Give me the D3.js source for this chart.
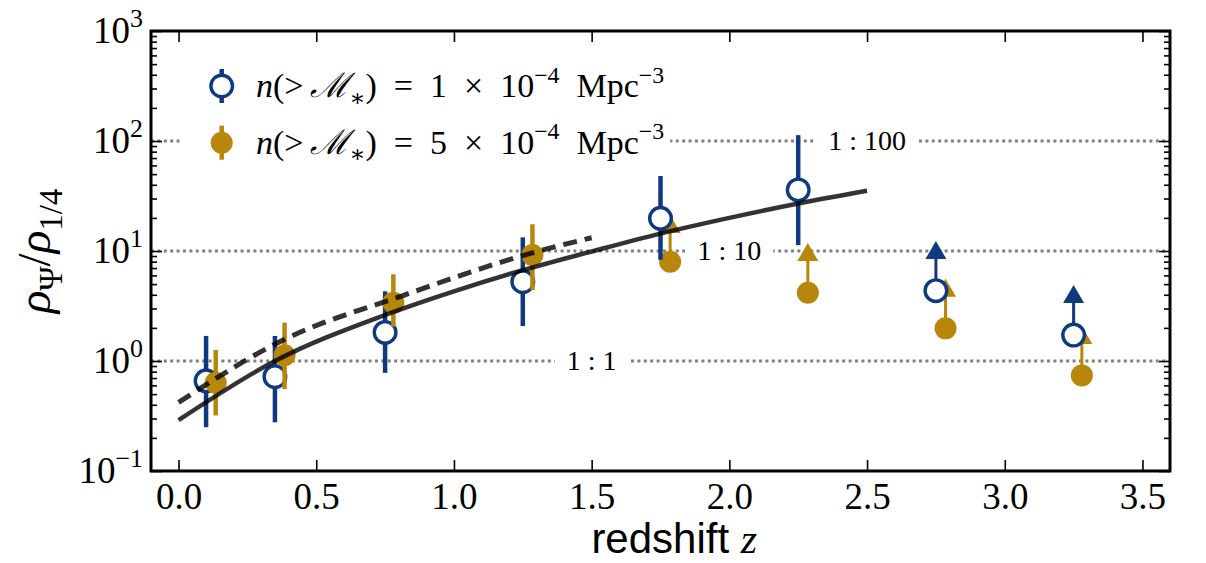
<!DOCTYPE html>
<html>
<head>
<meta charset="utf-8">
<script src="https://cdn.jsdelivr.net/npm/d3@7"></script>
<style>
  body { margin: 0; background: #fff; }
  text { fill: #000; }
</style>
</head>
<body>
<div id="chart"></div>
<script>
// measured points, n(>M*) = 1e-4
const blueZ = [0.10, 0.35, 0.75, 1.25, 1.75, 2.25];
const blueY = [0.66, 0.72, 1.82, 5.26, 19.8, 35.9];
const blueLo = [0.25, 0.277, 0.78, 2.08, 8.3, 11.3];
const blueHi = [1.69, 1.69, 4.3, 13.3, 50, 113];
// lower limits (arrows)
const blueLimZ = [2.75, 3.25];
const blueLimY = [4.36, 1.72];
const blueLimTip = [12.3, 4.9];

// measured points, n(>M*) = 5e-4
const goldZ = [0.135, 0.385, 0.78, 1.285];
const goldY = [0.635, 1.13, 3.39, 9.2];
const goldLo = [0.32, 0.556, 2.05, 4.42];
const goldHi = [1.26, 2.23, 6.14, 17.5];
const goldLimZ = [1.785, 2.285, 2.785, 3.28];
const goldLimY = [8.0, 4.18, 1.98, 0.74];
const goldLimTip = [21.2, 11.8, 5.6, 2.08];

// model curves
const solidZ = [0, 0.35, 0.75, 1.0, 1.25, 1.5, 1.75, 2.0, 2.25, 2.5];
const solidY = [0.29, 1.0, 2.62, 4.3, 6.7, 9.9, 14.4, 20, 27, 35.3];
const dashZ = [0, 0.38, 0.82, 1.3, 1.5];
const dashY = [0.42, 1.55, 3.98, 9.86, 13.2];

// reference ratios
const ratioY = [1, 10, 100];
const ratioZ = [1.5, 2.0, 2.5];
const ratioText = ["1 : 1", "1 : 10", "1 : 100"];

const xTicks = [0, 0.5, 1.0, 1.5, 2.0, 2.5, 3.0, 3.5];
const yTicks = [0.1, 1, 10, 100, 1000];
const yExp = ["\u22121", "0", "1", "2", "3"];

const BLUE = "#0f3a80";
const GOLD = "#b8860b";
const SERIF = "'Liberation Serif', 'DejaVu Serif', serif";

const W = 1206, H = 563;
const margin = { top: 31, right: 36, bottom: 92, left: 151 };
const width = W - margin.left - margin.right;
const height = H - margin.top - margin.bottom;

const svg = d3.select("#chart").append("svg")
  .attr("width", W)
  .attr("height", H)
  .attr("viewBox", `0 0 ${W} ${H}`);

svg.append("rect").attr("width", W).attr("height", H).attr("fill", "#fff");

const g = svg.append("g")
  .attr("transform", `translate(${margin.left},${margin.top})`);

const x = d3.scaleLinear().domain([-0.1, 3.6]).range([0, width]);
const y = d3.scaleLog().domain([0.1, 1000]).range([height, 0]);

// write a small math expression as tspans
function addMath(sel, parts, size) {
  let shift = 0;
  parts.forEach(p => {
    const target = p.pos === "sup" ? -0.42 * size : p.pos === "sub" ? 0.25 * size : 0;
    sel.append("tspan")
      .attr("dy", target - shift)
      .style("font-size", (p.pos ? size * 0.7 : size) + "px")
      .style("font-style", p.it ? "italic" : "normal")
      .text(p.t);
    shift = target;
  });
}

// dotted ratio lines
g.selectAll(".ratio")
  .data(ratioY)
  .enter()
  .append("line")
  .attr("x1", 0)
  .attr("x2", width)
  .attr("y1", d => y(d))
  .attr("y2", d => y(d))
  .attr("stroke", "#808080")
  .attr("stroke-width", 3)
  .attr("stroke-dasharray", "3,3.4");

ratioY.forEach((v, i) => {
  const lab = g.append("g");
  const t = lab.append("text")
    .attr("x", x(ratioZ[i]))
    .attr("y", y(v) + 9)
    .attr("text-anchor", "middle")
    .style("font-family", SERIF)
    .style("font-size", "28px")
    .text(ratioText[i]);
  const bb = t.node().getBBox();
  lab.insert("rect", "text")
    .attr("x", bb.x - 12)
    .attr("y", y(v) - 6)
    .attr("width", bb.width + 24)
    .attr("height", 12)
    .attr("fill", "#fff");
});

// lower limit arrows (drawn first, under the points)
function drawLimits(zs, ys, tips, color) {
  const grp = g.append("g");
  zs.forEach((z, i) => {
    grp.append("line")
      .attr("x1", x(z)).attr("x2", x(z))
      .attr("y1", y(ys[i])).attr("y2", y(tips[i]) + 8)
      .attr("stroke", color)
      .attr("stroke-width", 3);
    const tx = x(z), ty = y(tips[i]);
    grp.append("path")
      .attr("d", `M${tx},${ty}L${tx + 10.5},${ty + 18}L${tx - 10.5},${ty + 18}Z`)
      .attr("fill", color);
  });
}
drawLimits(goldLimZ, goldLimY, goldLimTip, GOLD);
drawLimits(blueLimZ, blueLimY, blueLimTip, BLUE);

// error bars + markers
function drawPoints(zs, ys, lo, hi, color, open) {
  const grp = g.append("g");
  grp.selectAll("line")
    .data(zs)
    .enter()
    .append("line")
    .attr("x1", d => x(d)).attr("x2", d => x(d))
    .attr("y1", (d, i) => y(lo[i]))
    .attr("y2", (d, i) => y(hi[i]))
    .attr("stroke", color)
    .attr("stroke-width", 4.5);
  grp.selectAll("circle")
    .data(zs)
    .enter()
    .append("circle")
    .attr("cx", d => x(d))
    .attr("cy", (d, i) => y(ys[i]))
    .attr("r", open ? 10.8 : 11)
    .attr("fill", open ? "#fff" : color)
    .attr("stroke", open ? color : "none")
    .attr("stroke-width", 3.4);
}
drawPoints(blueLimZ, blueLimY, blueLimY, blueLimY, BLUE, true);
drawPoints(goldLimZ, goldLimY, goldLimY, goldLimY, GOLD, false);
drawPoints(blueZ, blueY, blueLo, blueHi, BLUE, true);
drawPoints(goldZ, goldY, goldLo, goldHi, GOLD, false);

// model curves
const line = d3.line()
  .x(d => x(d[0]))
  .y(d => y(d[1]))
  .curve(d3.curveMonotoneX);

g.append("path")
  .attr("d", line(solidZ.map((z, i) => [z, solidY[i]])))
  .attr("fill", "none")
  .attr("stroke", "#000")
  .attr("stroke-opacity", 0.8)
  .attr("stroke-width", 4.5);

g.append("path")
  .attr("d", line(dashZ.map((z, i) => [z, dashY[i]])))
  .attr("fill", "none")
  .attr("stroke", "#000")
  .attr("stroke-opacity", 0.8)
  .attr("stroke-width", 5)
  .attr("stroke-dasharray", "14,8");

// axes, ticks pointing inward
const minors = [];
[0.1, 1, 10, 100].forEach(d => { for (let k = 2; k < 10; k++) minors.push(d * k); });

const xAxis = g.append("g")
  .attr("transform", `translate(0,${height})`)
  .call(d3.axisBottom(x).tickValues(xTicks).tickSize(-11).tickPadding(12).tickFormat(d3.format(".1f")));
xAxis.selectAll("text")
  .style("font-family", SERIF)
  .style("font-size", "37px");

g.append("g")
  .call(d3.axisTop(x).tickValues(xTicks).tickSize(-11).tickFormat(""));

g.append("g")
  .call(d3.axisLeft(y).tickValues(yTicks).tickSize(-11).tickFormat(""));
g.append("g").call(d3.axisLeft(y).tickValues(minors).tickSize(-6).tickFormat(""));
g.append("g").attr("transform", `translate(${width},0)`)
  .call(d3.axisRight(y).tickValues(yTicks).tickSize(-11).tickFormat(""));
g.append("g").attr("transform", `translate(${width},0)`)
  .call(d3.axisRight(y).tickValues(minors).tickSize(-6).tickFormat(""));

g.selectAll(".domain").remove();
g.selectAll(".tick line").attr("stroke", "#000").attr("stroke-width", 1.6);

yTicks.forEach((v, i) => {
  const t = g.append("text")
    .attr("x", -8)
    .attr("y", y(v) + 12)
    .attr("text-anchor", "end")
    .style("font-family", SERIF);
  addMath(t, [{ t: "10" }, { t: yExp[i], pos: "sup" }], 37);
});

// frame
g.append("rect")
  .attr("width", width)
  .attr("height", height)
  .attr("fill", "none")
  .attr("stroke", "#000")
  .attr("stroke-width", 3);

// legend
const legend = g.append("g");
const legendRows = [
  { color: BLUE, open: true, num: "1" },
  { color: GOLD, open: false, num: "5" }
];
const legBg = legend.append("rect").attr("fill", "#fff");
let legRight = 0;
legendRows.forEach((r, i) => {
  const cy = 55 + i * 56.7;
  const cx = 70.7;
  legend.append("line")
    .attr("x1", cx).attr("x2", cx)
    .attr("y1", cy - 17).attr("y2", cy + 17)
    .attr("stroke", r.color)
    .attr("stroke-width", 4.5);
  legend.append("circle")
    .attr("cx", cx).attr("cy", cy)
    .attr("r", r.open ? 10.8 : 11)
    .attr("fill", r.open ? "#fff" : r.color)
    .attr("stroke", r.open ? r.color : "none")
    .attr("stroke-width", 3.4);
  const t = legend.append("text")
    .attr("x", 105)
    .attr("y", cy + 11)
    .style("font-family", SERIF);
  addMath(t, [
    { t: "n", it: true },
    { t: "(>\u2009" },
    { t: "\u2133", it: true },
    { t: "\u2217", pos: "sub" },
    { t: ")\u2002=\u20021\u2002\u00d7\u200210".replace("1\u2002\u00d7", r.num + "\u2002\u00d7") },
    { t: "\u22124", pos: "sup" },
    { t: "\u2002Mpc" },
    { t: "\u22123", pos: "sup" }
  ], 34);
  const bb = t.node().getBBox();
  legRight = Math.max(legRight, bb.x + bb.width);
});
legBg.attr("x", 32).attr("y", 25).attr("width", legRight + 6 - 32).attr("height", 120);

// axis titles
const xl = svg.append("text")
  .attr("x", margin.left + x(1.8))
  .attr("y", 553)
  .attr("text-anchor", "middle");
xl.append("tspan")
  .style("font-family", "'Liberation Sans', Arial, sans-serif")
  .style("font-size", "42px")
  .text("redshift ");
xl.append("tspan")
  .style("font-family", SERIF)
  .style("font-style", "italic")
  .style("font-size", "42px")
  .text("z");

const yl = svg.append("text")
  .attr("transform", "translate(50,251) rotate(-90)")
  .attr("text-anchor", "middle")
  .style("font-family", SERIF);
addMath(yl, [
  { t: "\u03c1", it: true },
  { t: "\u03a8", pos: "sub" },
  { t: "/" },
  { t: "\u03c1", it: true },
  { t: "1/4", pos: "sub" }
], 47);
</script>
</body>
</html>
